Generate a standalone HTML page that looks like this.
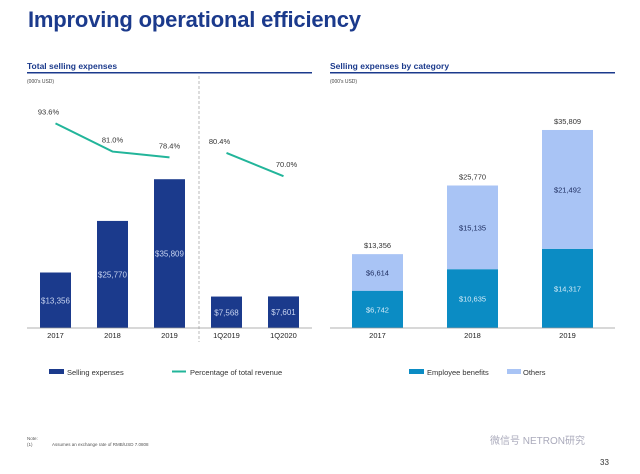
<!DOCTYPE html>
<html><head><meta charset="utf-8"><style>
html,body{margin:0;padding:0;background:#fff;}
svg{display:block;font-family:"Liberation Sans",Arial,sans-serif;}
</style></head><body>
<svg id="s" width="640" height="474" viewBox="0 0 640 474" xmlns="http://www.w3.org/2000/svg">
<text x="28" y="27" font-size="22" font-weight="bold" fill="#1b3a8c" textLength="333">Improving operational efficiency</text>
<text x="27" y="69" font-size="8.5" font-weight="bold" fill="#1b3a8c">Total selling expenses</text>
<rect x="27" y="72" width="285" height="1.5" fill="#1b3a8c"/>
<text x="27" y="83" font-size="5" fill="#444">(000's USD)</text>
<text x="330" y="69" font-size="8.5" font-weight="bold" fill="#1b3a8c">Selling expenses by category</text>
<rect x="330" y="72" width="285" height="1.5" fill="#1b3a8c"/>
<text x="330" y="83" font-size="5" fill="#444">(000's USD)</text>
<line x1="199" y1="76" x2="199" y2="342" stroke="#aaa" stroke-width="0.8" stroke-dasharray="3,2"/>
<g id="left"></g><g id="right"></g>
<line x1="27" y1="328" x2="312" y2="328" stroke="#999" stroke-width="0.8"/>
<line x1="330" y1="328" x2="615" y2="328" stroke="#999" stroke-width="0.8"/>
<g font-size="7.5" fill="#333">
<rect x="49" y="369" width="15" height="5" fill="#1b3a8c"/>
<text x="67" y="375">Selling expenses</text>
<rect x="172" y="370.5" width="14" height="2" fill="#22b59a"/>
<text x="190" y="375">Percentage of total revenue</text>
</g>
<g font-size="7.5" fill="#333">
<rect x="409" y="369" width="15" height="5" fill="#0b8cc4"/>
<text x="427" y="375">Employee benefits</text>
<rect x="507" y="369" width="14" height="5" fill="#a9c4f5"/>
<text x="523" y="375">Others</text>
</g>
<text x="27" y="440" font-size="4.5" fill="#555">Note:</text>
<text x="27" y="446" font-size="4.5" fill="#555">(1)</text>
<text x="52" y="446" font-size="4.5" fill="#555">Assumes an exchange rate of RMB/USD 7.0808</text>
<text x="490" y="444" font-size="10" fill="#aab" font-family="'Liberation Sans','Noto Sans CJK SC',sans-serif">微信号 NETRON研究</text>
<text x="600" y="465" font-size="8" fill="#333">33</text>
</svg>
<script>
const leftCats=["2017","2018","2019","1Q2019","1Q2020"];
const leftValues=[13356,25770,35809,7568,7601];
const leftLabels=["$13,356","$25,770","$35,809","$7,568","$7,601"];
const pctValues=[93.6,81.0,78.4,80.4,70.0];
const pctLabels=["93.6%","81.0%","78.4%","80.4%","70.0%"];
const rightCats=["2017","2018","2019"];
const employeeValues=[6742,10635,14317];
const otherValues=[6614,15135,21492];
const totalLabels=["$13,356","$25,770","$35,809"];
const employeeLabels=["$6,742","$10,635","$14,317"];
const otherLabels=["$6,614","$15,135","$21,492"];

const NS="http://www.w3.org/2000/svg";
function mk(parent,tag,attrs,txt){const e=document.createElementNS(NS,tag);for(const k in attrs)e.setAttribute(k,attrs[k]);if(txt!==undefined)e.textContent=txt;parent.appendChild(e);return e;}
const base=328;
const lx=i=>40+i*57, lw=31;
const ly=v=>base-v*0.004155;
const py=v=>333-v*2.24;
const rx=i=>352+i*95, rw=51;
const ry=v=>base-v*0.00553;
const L=document.getElementById('left'),R=document.getElementById('right');
leftCats.forEach((c,i)=>{
  const b=mk(L,'rect',{x:lx(i),y:ly(leftValues[i]),width:lw,height:base-ly(leftValues[i]),fill:'#1b3a8c'});
  
  
  const t=mk(L,'text',{x:lx(i)+lw/2,y:(ly(leftValues[i])+base)/2+3,'font-size':8,fill:'#c8d4f0','text-anchor':'middle'},leftLabels[i]);
  
  
  const a=mk(L,'text',{x:lx(i)+lw/2,y:338,'font-size':7.5,fill:'#222','text-anchor':'middle'},c);
  
  
  const p=mk(L,'text',{x:lx(i)+lw/2-(i==0||i==3?7:0)+(i==4?3:0),y:py(pctValues[i])-9,'font-size':7.5,fill:'#333','text-anchor':'middle'},pctLabels[i]);
  
  
});
[[0,1,2],[3,4]].forEach((seg,k)=>{
  const d=seg.map((i,j)=>(j?'L':'M')+(lx(i)+lw/2)+','+py(pctValues[i])).join(' ');
  const l=mk(L,'path',{d:d,fill:'none',stroke:'#22b59a','stroke-width':2});
  
  
});
rightCats.forEach((c,i)=>{
  const e=employeeValues[i],o=otherValues[i];
  const b1=mk(R,'rect',{x:rx(i),y:ry(e),width:rw,height:base-ry(e),fill:'#0b8cc4'});
  
  
  const b2=mk(R,'rect',{x:rx(i),y:ry(e+o),width:rw,height:ry(e)-ry(e+o),fill:'#a9c4f5'});
  
  
  const t1=mk(R,'text',{x:rx(i)+rw/2,y:(ry(e)+base)/2+3,'font-size':7.5,fill:'#d6ecf8','text-anchor':'middle'},employeeLabels[i]);
  
  
  const t2=mk(R,'text',{x:rx(i)+rw/2,y:(ry(e)+ry(e+o))/2+3,'font-size':7.5,fill:'#1b2a5c','text-anchor':'middle'},otherLabels[i]);
  
  
  const t3=mk(R,'text',{x:rx(i)+rw/2,y:ry(e+o)-6,'font-size':7.5,fill:'#333','text-anchor':'middle'},totalLabels[i]);
  
  
  const a=mk(R,'text',{x:rx(i)+rw/2,y:338,'font-size':7.5,fill:'#222','text-anchor':'middle'},c);
  
  
});
</script>
</body></html>
